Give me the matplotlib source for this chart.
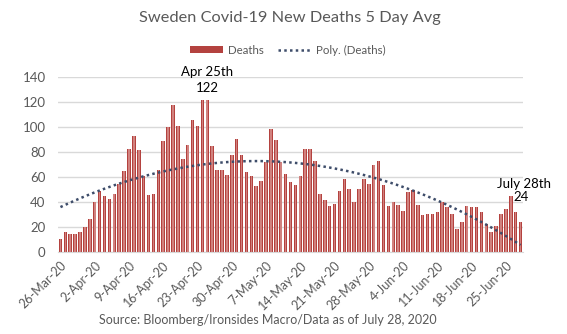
import matplotlib
matplotlib.use("Agg")
import matplotlib.pyplot as plt
import numpy as np

# 5 day average of new deaths, one bar per day starting 26-Mar-20
deaths = [11, 16, 15, 15, 16, 20, 27, 40, 49, 45,
          43, 47, 55, 65, 83, 93, 82, 61, 46, 47,
          66, 89, 100, 118, 101, 75, 86, 106, 101, 122,
          122, 85, 66, 66, 62, 78, 91, 78, 64, 61,
          53, 57, 72, 99, 90, 72, 63, 56, 54, 61,
          83, 83, 73, 47, 42, 37, 39, 49, 59, 51,
          40, 51, 59, 55, 70, 73, 54, 37, 40, 38,
          33, 48, 50, 38, 30, 31, 31, 32, 40, 36,
          31, 19, 24, 37, 36, 36, 32, 23, 16, 21,
          31, 35, 45, 32, 24]

tick_labels = ['26-Mar-20', '2-Apr-20', '9-Apr-20', '16-Apr-20', '23-Apr-20',
               '30-Apr-20', '7-May-20', '14-May-20', '21-May-20', '28-May-20',
               '4-Jun-20', '11-Jun-20', '18-Jun-20', '25-Jun-20']

peak_idx = 30
text_col = '#595959'
plt.rcParams['font.family'] = ['Lato', 'DejaVu Sans']

x = np.arange(len(deaths))
y = np.array(deaths, dtype=float)

fig = plt.figure(figsize=(5.67, 3.34), dpi=100)
ax = fig.add_axes([58 / 567, 1 - 252.3 / 334, 465 / 567, 175 / 334])

# bars with darker edges and lighter centre (rough gradient)
bars = ax.bar(x, y, width=0.72, color='#b4423f', zorder=2, label='Deaths')
ax.bar(x, y, width=0.34, color='#dc9896', alpha=0.75, zorder=3)

# polynomial trendline (order 2), like Excel's Poly. trendline
coef = np.polyfit(x, y, 2)
trend, = ax.plot(x, np.polyval(coef, x), color='#3e4d6a', lw=1.8,
                 linestyle=(0, (1, 1.3)), zorder=4, label='Poly. (Deaths)')

ax.set_xlim(-0.5, len(deaths) - 0.5)
ax.set_ylim(0, 140)
ax.set_yticks(np.arange(0, 141, 20))
ax.grid(axis='y', color='#d9d9d9', lw=1, zorder=0)
for s in ['top', 'right', 'left']:
    ax.spines[s].set_visible(False)
ax.spines['bottom'].set_color('#d9d9d9')
ax.tick_params(axis='both', length=0, colors=text_col, labelsize=9.5)
ax.tick_params(axis='y', pad=9)

ax.set_xticks(x[::7])
ax.set_xticklabels(tick_labels, rotation=45, ha='right', rotation_mode='anchor',
                   fontsize=9, color=text_col)
ax.tick_params(axis='x', pad=5)

# annotations
ax.text(peak_idx, 144.5, 'Apr 25th', ha='center', va='center', fontsize=9.5, color='black')
ax.text(peak_idx, 131.5, '122', ha='center', va='center', fontsize=9.5, color='black')
ax.text(len(deaths) - 1 + 0.8, 55, 'July 28th', ha='center', va='center', fontsize=9.5, color='black')
ax.text(len(deaths) - 1 + 0.2, 44, str(deaths[-1]), ha='center', va='center', fontsize=9.5, color='black')

fig.text(290 / 567, 1 - 18 / 334, 'Sweden Covid-19 New Deaths 5 Day Avg', ha='center', va='center',
         fontsize=11.8, color=text_col)

leg = fig.legend([bars, trend], ['Deaths', 'Poly. (Deaths)'], loc='center',
                 bbox_to_anchor=(288 / 567, 1 - 50 / 334), ncol=2, frameon=False,
                 fontsize=8.3, handlelength=2.8, handleheight=0.5, handletextpad=0.5,
                 columnspacing=1.2)
for t in leg.get_texts():
    t.set_color(text_col)

fig.text(268 / 567, 1 - 320 / 334, 'Source: Bloomberg/Ironsides Macro/Data as of July 28, 2020',
         ha='center', va='center', fontsize=9, color=text_col)

fig.savefig('out.png', dpi=100)
